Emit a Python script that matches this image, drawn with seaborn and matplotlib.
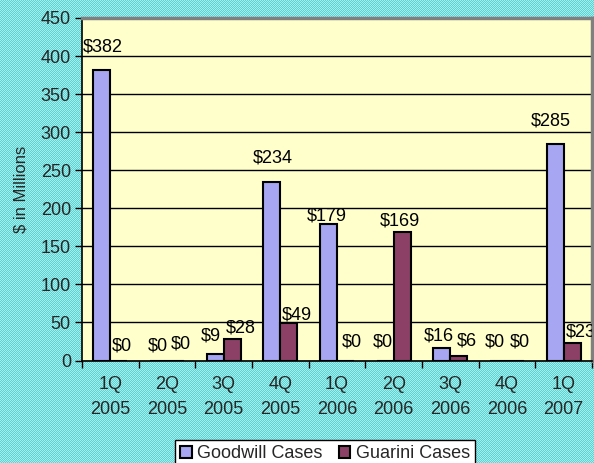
import numpy as np
import pandas as pd
import matplotlib
matplotlib.use("Agg")
import matplotlib.pyplot as plt
import seaborn as sns

quarters = ["1Q\n2005", "2Q\n2005", "3Q\n2005", "4Q\n2005", "1Q\n2006",
            "2Q\n2006", "3Q\n2006", "4Q\n2006", "1Q\n2007"]
goodwill = [382, 0, 9, 234, 179, 0, 16, 0, 285]
guarini = [0, 0, 28, 49, 0, 169, 6, 0, 23]
series_names = ["Goodwill Cases", "Guarini Cases"]

# label offsets (pixels) relative to bar top centre
goodwill_dx = [1, -1, -4, 1, -2, -2, -3, -4, -4]
goodwill_dy = [23, 14, 18, 24, 8, 18, 12, 19, 23]
guarini_dx = [3, 5, 9, 8, 6, -2, 8, 4, 9]
guarini_dy = [15, 16, 11, 8, 18, 11, 15, 19, 11]

df = pd.DataFrame({
    "quarter": quarters * 2,
    "value": goodwill + guarini,
    "series": [series_names[0]] * len(quarters) + [series_names[1]] * len(quarters),
})

sns.set_theme(style="white")
plt.rcParams["font.family"] = ["Liberation Sans", "DejaVu Sans"]
FS = 13

W, H = 594, 463
fig = plt.figure(figsize=(W / 100, H / 100), dpi=100)

# patterned cyan background
yy, xx = np.mgrid[0:H, 0:W]
chk = ((xx + yy) % 2).astype(float)
c1 = np.array([96, 208, 208]) / 255
c2 = np.array([160, 240, 240]) / 255
bg = c1[None, None, :] * chk[..., None] + c2[None, None, :] * (1 - chk[..., None])
fig.figimage(bg, xo=0, yo=0, zorder=-10)

ax = fig.add_axes([82 / W, 1 - 360.5 / H, 510 / W, (360.5 - 18) / H])
ax.set_facecolor("#FFFFCC")

sns.barplot(data=df, x="quarter", y="value", hue="series",
            palette=["#9999FF", "#993366"], width=0.6,
            edgecolor="black", linewidth=1.5, ax=ax, zorder=3)

ax.set_ylim(0, 450)
ax.set_xlim(-0.5, len(quarters) - 0.5)
ax.set_yticks(np.arange(0, 451, 50))
ax.yaxis.grid(True, color="black", linewidth=1, zorder=0)
ax.set_axisbelow(True)
ax.set_xlabel("")
ax.set_ylabel("$ in Millions", fontsize=12, labelpad=9)

ax.tick_params(axis="y", length=5, width=1, color="black", labelsize=FS, pad=3, left=True)
ax.set_xticks(range(len(quarters)))
ax.set_xticklabels(quarters, linespacing=1.6)
ax.set_xticks(np.arange(-0.5, len(quarters), 1), minor=True)
ax.tick_params(axis="x", which="major", length=0, labelsize=FS, pad=11)
ax.tick_params(axis="x", which="minor", length=5, width=1, color="black", bottom=True)

for s in ["left", "bottom"]:
    ax.spines[s].set_color("black")
    ax.spines[s].set_linewidth(1.2)
for s in ["top", "right"]:
    ax.spines[s].set_color("#808080")
    ax.spines[s].set_linewidth(2.5)

offsets = [(goodwill_dx, goodwill_dy), (guarini_dx, guarini_dy)]
for cont, vals, (dxs, dys) in zip(ax.containers, [goodwill, guarini], offsets):
    for bar, v, dx, dy in zip(cont.patches, vals, dxs, dys):
        x = bar.get_x() + bar.get_width() / 2
        ax.annotate(f"${v}", xy=(x, bar.get_height()), xytext=(dx, dy),
                    textcoords="offset pixels", ha="center", va="center",
                    fontsize=FS, color="black", annotation_clip=False,
                    clip_on=True, zorder=5)

leg = ax.legend(loc="upper center", bbox_to_anchor=(325 / W, 1 - 440 / H),
                bbox_transform=fig.transFigure, ncol=2, frameon=True,
                fontsize=FS, handlelength=0.65, handleheight=0.65,
                handletextpad=0.3, columnspacing=0.9, borderpad=0.3,
                fancybox=False, borderaxespad=0)
leg.get_frame().set_edgecolor("black")
leg.get_frame().set_facecolor("white")
leg.get_frame().set_alpha(1)
leg.get_frame().set_linewidth(1)
for h in leg.legend_handles:
    h.set_edgecolor("black")
    h.set_linewidth(1.5)

fig.savefig("out.png", dpi=100)
